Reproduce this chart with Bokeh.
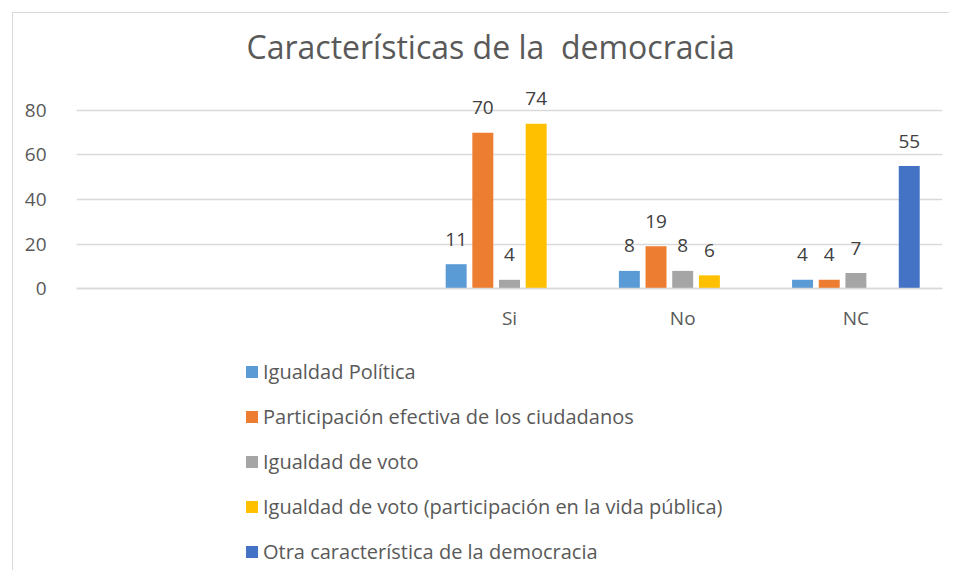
import math
from bokeh.plotting import figure
from bokeh.models import ColumnDataSource, FactorRange, Range1d, FixedTicker, Legend, LegendItem
from bokeh.transform import dodge
from bokeh.core.properties import value
from bokeh.embed import file_html
from bokeh.resources import INLINE

categories = ["", " ", "Si", "No", "NC"]
series_names = [
    "Igualdad Política",
    "Participación efectiva de los ciudadanos",
    "Igualdad de voto",
    "Igualdad de voto (participación en la vida pública)",
    "Otra característica de la democracia",
]
igualdad_politica = [None, None, 11, 8, 4]
participacion = [None, None, 70, 19, 4]
igualdad_voto = [None, None, 4, 8, 7]
igualdad_voto_vida = [None, None, 74, 6, None]
otra = [None, None, None, None, 55]
series_values = [igualdad_politica, participacion, igualdad_voto, igualdad_voto_vida, otra]
colors = ["#5B9BD5", "#ED7D31", "#A5A5A5", "#FFC000", "#4472C4"]
y_ticks = [0, 20, 40, 60, 80]

FONT = "Open Sans"
TXT = "#595959"

# plot frame extends below the value axis to host the legend
p = figure(
    x_range=FactorRange(*categories, range_padding=0),
    y_range=Range1d(-126.4, 95.2),
    frame_width=866, frame_height=494,
    min_border_left=63, min_border_right=7, min_border_top=63, min_border_bottom=0,
    output_backend="svg", toolbar_location=None,
    margin=(12, 0, 0, 12),
    styles={"border-left": "1px solid #d9d9d9", "border-top": "1px solid #d9d9d9"},
)
p.outline_line_color = None
p.xgrid.grid_line_color = None
p.ygrid.grid_line_color = "#d9d9d9"
p.ygrid.grid_line_width = 1.3
p.yaxis.ticker = FixedTicker(ticks=y_ticks)
p.yaxis.axis_line_color = None
p.yaxis.major_tick_line_color = None
p.yaxis.minor_tick_line_color = None
p.yaxis.major_label_standoff = 24
p.xaxis.fixed_location = 0
p.xaxis.axis_line_color = "#d9d9d9"
p.xaxis.axis_line_width = 1.3
p.xaxis.major_tick_line_color = None
p.xaxis.minor_tick_line_color = None
p.xaxis.major_label_standoff = 10
for ax in (p.xaxis, p.yaxis):
    ax.major_label_text_font = FONT
    ax.major_label_text_font_size = "19px"
    ax.major_label_text_color = TXT

p.title.text = "Características de la \u00a0democracia"
p.title.text_font = FONT
p.title.text_font_size = "32px"
p.title.text_font_style = "normal"
p.title.text_color = TXT
p.title.align = "left"
p.title.offset = 170
p.title.standoff = 18

step = 0.154
width = 0.121
items = []
for i, (name, vals, col) in enumerate(zip(series_names, series_values, colors)):
    off = (i - 2) * step
    ys = [float("nan") if v is None else v for v in vals]
    src = ColumnDataSource(dict(x=categories, top=ys))
    r = p.vbar(x=dodge("x", off, range=p.x_range), top="top", bottom=0, width=width,
               source=src, fill_color=col, line_color=None)
    items.append(LegendItem(label=name, renderers=[r]))
    lx = [c for c, v in zip(categories, vals) if v is not None]
    ly = [v for v in vals if v is not None]
    lsrc = ColumnDataSource(dict(x=lx, y=ly, t=[str(v) for v in ly]))
    p.text(x=dodge("x", off, range=p.x_range), y="y", text="t", source=lsrc,
           text_align="center", text_baseline="alphabetic", y_offset=-25,
           text_font=value(FONT), text_font_size="19px", text_color="#404040")

legend = Legend(items=items, location=(168, 5), orientation="vertical")
legend.border_line_color = None
legend.background_fill_alpha = 0
legend.margin = 0
legend.padding = 0
legend.glyph_width = 15
legend.glyph_height = 15
legend.label_height = 20
legend.spacing = 18
legend.label_standoff = 4
legend.label_text_font = FONT
legend.label_text_font_size = "20px"
legend.label_text_color = TXT
p.add_layout(legend, "center")

open("out.html", "w").write(file_html(p, INLINE))
